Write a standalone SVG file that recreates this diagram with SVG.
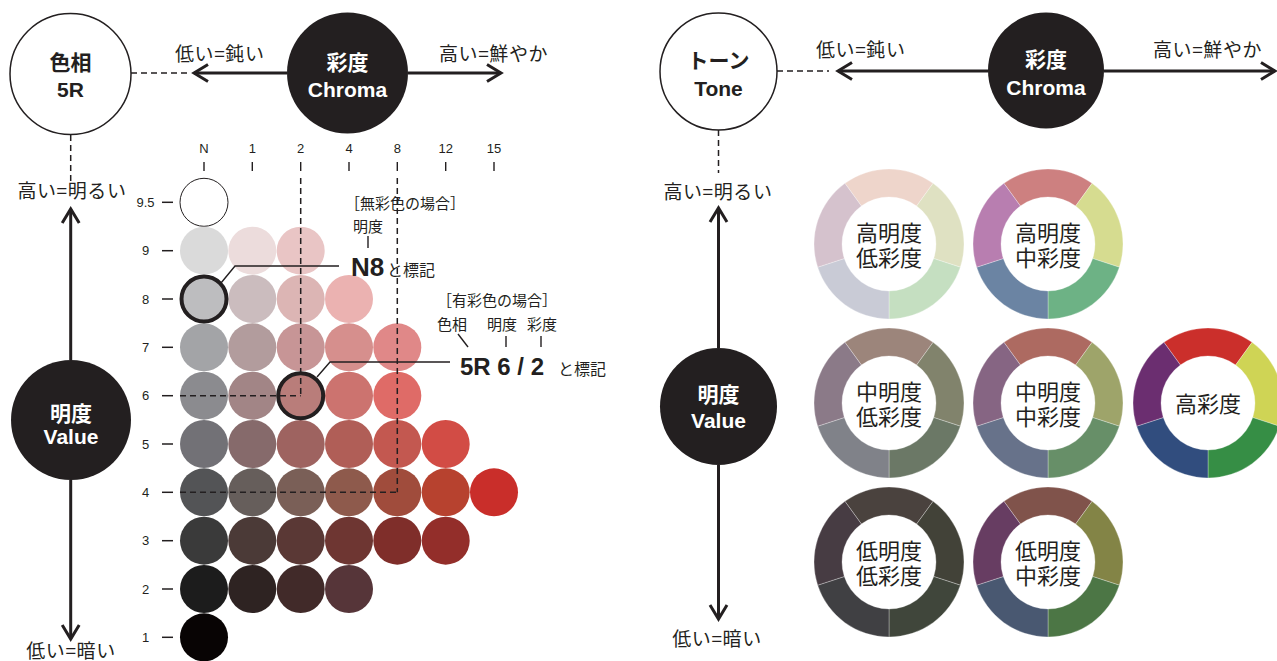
<svg xmlns="http://www.w3.org/2000/svg" xmlns:xlink="http://www.w3.org/1999/xlink" width="1277" height="661" viewBox="0 0 1277 661">
<style>
.jp{font-family:"Noto Sans CJK JP","Liberation Sans",sans-serif;fill:#231f20}
.lab{font-size:19px;letter-spacing:0.6px}
.bw{font-family:"Liberation Sans","Noto Sans CJK JP",sans-serif;font-weight:bold;fill:#fff;font-size:21px;text-anchor:middle}
.bk{font-family:"Liberation Sans","Noto Sans CJK JP",sans-serif;font-weight:bold;fill:#231f20;font-size:21px;text-anchor:middle}
.num{font-family:"Liberation Sans",sans-serif;font-size:13px;fill:#231f20;text-anchor:middle}
.ring{font-family:"Liberation Sans","Noto Sans CJK JP",sans-serif;font-size:22px;fill:#231f20;text-anchor:middle}
.ann{font-family:"Noto Sans CJK JP","Liberation Sans",sans-serif;font-size:15px;fill:#231f20}
.arrow{stroke:#231f20;stroke-width:3;fill:none;marker-end:url(#chev)}
.dash{stroke:#231f20;stroke-width:1.5;fill:none;stroke-dasharray:6 4}
.thin{stroke:#231f20;stroke-width:1.4;fill:none}
.hl{fill:none;stroke:#231f20;stroke-width:4}
.seg{stroke:#ffffff;stroke-width:0.5;stroke-opacity:0.6}
</style>
<defs>
<marker id="chev" markerUnits="userSpaceOnUse" markerWidth="20" markerHeight="22" viewBox="0 0 20 22" refX="16" refY="11" orient="auto">
<path d="M2,2.5 L16,11 L2,19.5" fill="none" stroke="#231f20" stroke-width="3"/>
</marker>
<path id="sT" d="M -44.08 -60.68 A 75 75 0 0 1 44.08 -60.68 L 27.63 -38.02 A 47 47 0 0 0 -27.63 -38.02 Z"/>
<path id="sUR" d="M 44.08 -60.68 A 75 75 0 0 1 71.33 23.18 L 44.70 14.52 A 47 47 0 0 0 27.63 -38.02 Z"/>
<path id="sLR" d="M 71.33 23.18 A 75 75 0 0 1 0 75 L 0 47 A 47 47 0 0 0 44.70 14.52 Z"/>
<path id="sLL" d="M 0 75 A 75 75 0 0 1 -71.33 23.18 L -44.70 14.52 A 47 47 0 0 0 0 47 Z"/>
<path id="sUL" d="M -71.33 23.18 A 75 75 0 0 1 -44.08 -60.68 L -27.63 -38.02 A 47 47 0 0 0 -44.70 14.52 Z"/>
</defs>
<rect width="1277" height="661" fill="#ffffff"/>

<!-- left nodes -->
<g id="hue-node">
<circle cx="70.5" cy="74" r="60.5" fill="#fff" stroke="#231f20" stroke-width="1.5"/>
<text class="bk" x="70.5" y="70">色相</text>
<text class="bk" x="70.5" y="97">5R</text>
</g>
<g id="chroma-node-left">
<circle cx="347.5" cy="73" r="60.5" fill="#231f20"/>
<text class="bw" x="347.5" y="70">彩度</text>
<text class="bw" x="347.5" y="97">Chroma</text>
</g>
<g id="value-node-left">
<circle cx="71" cy="420" r="60" fill="#231f20"/>
<text class="bw" x="71" y="421">明度</text>
<text class="bw" x="71" y="444">Value</text>
</g>
<g id="left-labels">
<text class="jp lab" x="175" y="61">低い=鈍い</text>
<text class="jp lab" x="439" y="61">高い=鮮やか</text>
<text class="jp lab" x="72" y="198" text-anchor="middle">高い=明るい</text>
<text class="jp lab" x="71" y="658" text-anchor="middle">低い=暗い</text>
</g>

<!-- scales -->
<g id="chroma-scale">
<text class="num" x="204" y="153">N</text>
<text class="num" x="252.3" y="153">1</text>
<text class="num" x="300.7" y="153">2</text>
<text class="num" x="349" y="153">4</text>
<text class="num" x="397.3" y="153">8</text>
<text class="num" x="445.7" y="153">12</text>
<text class="num" x="494" y="153">15</text>
<g stroke="#231f20" stroke-width="1.4">
<line x1="204" y1="162" x2="204" y2="171"/>
<line x1="252.3" y1="162" x2="252.3" y2="171"/>
<line x1="300.7" y1="162" x2="300.7" y2="171"/>
<line x1="349" y1="162" x2="349" y2="171"/>
<line x1="397.3" y1="162" x2="397.3" y2="171"/>
<line x1="445.7" y1="162" x2="445.7" y2="171"/>
<line x1="494" y1="162" x2="494" y2="171"/>
</g>
</g>
<g id="value-scale">
<text class="num" x="145.5" y="207">9.5</text>
<text class="num" x="145.5" y="255.2">9</text>
<text class="num" x="145.5" y="303.5">8</text>
<text class="num" x="145.5" y="351.8">7</text>
<text class="num" x="145.5" y="400.2">6</text>
<text class="num" x="145.5" y="448.5">5</text>
<text class="num" x="145.5" y="496.8">4</text>
<text class="num" x="145.5" y="545.2">3</text>
<text class="num" x="145.5" y="593.5">2</text>
<text class="num" x="145.5" y="641.8">1</text>
<g stroke="#231f20" stroke-width="1.5">
<line x1="162" y1="202.3" x2="173" y2="202.3"/>
<line x1="162" y1="250.7" x2="173" y2="250.7"/>
<line x1="162" y1="299" x2="173" y2="299"/>
<line x1="162" y1="347.3" x2="173" y2="347.3"/>
<line x1="162" y1="395.7" x2="173" y2="395.7"/>
<line x1="162" y1="444" x2="173" y2="444"/>
<line x1="162" y1="492.3" x2="173" y2="492.3"/>
<line x1="162" y1="540.7" x2="173" y2="540.7"/>
<line x1="162" y1="589" x2="173" y2="589"/>
<line x1="162" y1="637.3" x2="173" y2="637.3"/>
</g>
</g>

<!-- Munsell grid -->
<g id="munsell-grid">
<circle cx="204" cy="202.3" r="24" fill="#fff" stroke="#231f20" stroke-width="1"/>
<circle cx="204" cy="250.7" r="24" fill="#dadada"/>
<circle cx="252.3" cy="250.7" r="24" fill="#ecdcdc"/>
<circle cx="300.7" cy="250.7" r="24" fill="#e9c5c5"/>
<circle cx="204" cy="299" r="24" fill="#bdbdbf"/>
<circle cx="252.3" cy="299" r="24" fill="#cbbcbe"/>
<circle cx="300.7" cy="299" r="24" fill="#dcb5b4"/>
<circle cx="349" cy="299" r="24" fill="#ebb2b1"/>
<circle cx="204" cy="347.3" r="24" fill="#a3a4a7"/>
<circle cx="252.3" cy="347.3" r="24" fill="#b29c9d"/>
<circle cx="300.7" cy="347.3" r="24" fill="#c79596"/>
<circle cx="349" cy="347.3" r="24" fill="#d68f8d"/>
<circle cx="397.3" cy="347.3" r="24" fill="#e08888"/>
<circle cx="204" cy="395.7" r="24" fill="#8b8b8f"/>
<circle cx="252.3" cy="395.7" r="24" fill="#a28586"/>
<circle cx="300.7" cy="395.7" r="24" fill="#b97d7a"/>
<circle cx="349" cy="395.7" r="24" fill="#cc736f"/>
<circle cx="397.3" cy="395.7" r="24" fill="#df6b67"/>
<circle cx="204" cy="444" r="24" fill="#727176"/>
<circle cx="252.3" cy="444" r="24" fill="#866a6b"/>
<circle cx="300.7" cy="444" r="24" fill="#9e6360"/>
<circle cx="349" cy="444" r="24" fill="#b05e57"/>
<circle cx="397.3" cy="444" r="24" fill="#c35850"/>
<circle cx="445.7" cy="444" r="24" fill="#d24c45"/>
<circle cx="204" cy="492.3" r="24" fill="#535456"/>
<circle cx="252.3" cy="492.3" r="24" fill="#665e5b"/>
<circle cx="300.7" cy="492.3" r="24" fill="#7a5f57"/>
<circle cx="349" cy="492.3" r="24" fill="#8e5a4c"/>
<circle cx="397.3" cy="492.3" r="24" fill="#a04c3c"/>
<circle cx="445.7" cy="492.3" r="24" fill="#b7422f"/>
<circle cx="494" cy="492.3" r="24" fill="#c92e2a"/>
<circle cx="204" cy="540.7" r="24" fill="#3a3a3a"/>
<circle cx="252.3" cy="540.7" r="24" fill="#4b3a37"/>
<circle cx="300.7" cy="540.7" r="24" fill="#5a3835"/>
<circle cx="349" cy="540.7" r="24" fill="#6e3632"/>
<circle cx="397.3" cy="540.7" r="24" fill="#7f2e2a"/>
<circle cx="445.7" cy="540.7" r="24" fill="#932e2a"/>
<circle cx="204" cy="589" r="24" fill="#1c1c1c"/>
<circle cx="252.3" cy="589" r="24" fill="#2e2322"/>
<circle cx="300.7" cy="589" r="24" fill="#412a29"/>
<circle cx="349" cy="589" r="24" fill="#563539"/>
<circle cx="204" cy="637.3" r="24" fill="#080404"/>
</g>
<g id="highlight-N8"><circle class="hl" cx="204" cy="299" r="22.5"/></g>
<g id="highlight-5R62"><circle class="hl" cx="300.7" cy="395.7" r="22.5"/></g>

<!-- connectors (drawn above the dots) -->
<g id="connectors">
<line class="dash" x1="131" y1="73" x2="187" y2="73"/>
<line class="dash" x1="70.7" y1="135" x2="70.7" y2="182"/>
<line class="arrow" x1="287" y1="73" x2="194" y2="73"/>
<line class="arrow" x1="408" y1="73" x2="501" y2="73"/>
<line class="arrow" x1="70.7" y1="360" x2="70.7" y2="209"/>
<line class="arrow" x1="70.7" y1="480" x2="70.7" y2="639"/>
<line class="dash" x1="300.7" y1="178" x2="300.7" y2="395.7"/>
<line class="dash" x1="180" y1="395.7" x2="300.7" y2="395.7"/>
<line class="dash" x1="397.3" y1="178" x2="397.3" y2="492.3"/>
<line class="dash" x1="180" y1="492.3" x2="397.3" y2="492.3"/>
<polyline class="thin" points="221,283 235,266 339,266"/>
<polyline class="thin" points="317,377 330,362 450,362"/>
<line class="thin" x1="368" y1="236" x2="368" y2="248"/>
<line class="thin" x1="458" y1="334" x2="468" y2="347"/>
<line class="thin" x1="506" y1="336" x2="506" y2="347"/>
<line class="thin" x1="541" y1="336" x2="541" y2="347"/>
<line class="dash" x1="777" y1="71" x2="829" y2="71"/>
<line class="dash" x1="718.5" y1="130" x2="718.5" y2="173"/>
<line class="arrow" x1="988" y1="71" x2="838" y2="71"/>
<line class="arrow" x1="1104" y1="71" x2="1275" y2="71"/>
<line class="arrow" x1="718.5" y1="348" x2="718.5" y2="208"/>
<line class="arrow" x1="718.5" y1="465" x2="718.5" y2="619"/>
</g>

<!-- annotations -->
<g id="annotation-achromatic">
<text class="ann" x="345" y="209">［無彩色の場合］</text>
<text class="ann" x="353" y="232">明度</text>
<text x="351" y="276" style="font-family:'Liberation Sans',sans-serif;font-weight:bold;font-size:26px;fill:#231f20">N8</text>
<text class="jp" x="387" y="276" style="font-size:16px">と標記</text>
</g>
<g id="annotation-chromatic">
<text class="ann" x="437" y="306">［有彩色の場合］</text>
<text class="ann" x="437" y="330">色相</text>
<text class="ann" x="487" y="330">明度</text>
<text class="ann" x="527" y="330">彩度</text>
<text x="460" y="375" style="font-family:'Liberation Sans',sans-serif;font-weight:bold;font-size:24px;fill:#231f20">5R 6 / 2</text>
<text class="jp" x="558" y="375" style="font-size:16px">と標記</text>
</g>

<!-- right nodes -->
<g id="tone-node">
<circle cx="718.5" cy="71.5" r="58.5" fill="#fff" stroke="#231f20" stroke-width="1.5"/>
<text class="bk" x="718.5" y="68">トーン</text>
<text class="bk" x="718.5" y="96">Tone</text>
</g>
<g id="chroma-node-right">
<circle cx="1046" cy="70.5" r="58" fill="#231f20"/>
<text class="bw" x="1046" y="67">彩度</text>
<text class="bw" x="1046" y="95">Chroma</text>
</g>
<g id="value-node-right">
<circle cx="718.5" cy="406.5" r="58.5" fill="#231f20"/>
<text class="bw" x="718.5" y="402">明度</text>
<text class="bw" x="718.5" y="428">Value</text>
</g>
<g id="right-labels">
<text class="jp lab" x="816" y="57">低い=鈍い</text>
<text class="jp lab" x="1153" y="57">高い=鮮やか</text>
<text class="jp lab" x="718" y="199" text-anchor="middle">高い=明るい</text>
<text class="jp lab" x="717" y="646" text-anchor="middle">低い=暗い</text>
</g>

<!-- tone rings -->
<g id="ring-high-value-low-chroma" transform="translate(889,244)">
<use xlink:href="#sT" class="seg" fill="#eed5cb"/>
<use xlink:href="#sUR" class="seg" fill="#dfe1c2"/>
<use xlink:href="#sLR" class="seg" fill="#c5dfc1"/>
<use xlink:href="#sLL" class="seg" fill="#c9cbd6"/>
<use xlink:href="#sUL" class="seg" fill="#d5c2cd"/>
<text class="ring" x="0" y="-3.5">高明度</text>
<text class="ring" x="0" y="22">低彩度</text>
</g>
<g id="ring-high-value-mid-chroma" transform="translate(1048,244)">
<use xlink:href="#sT" class="seg" fill="#cd8080"/>
<use xlink:href="#sUR" class="seg" fill="#d6dc90"/>
<use xlink:href="#sLR" class="seg" fill="#6db285"/>
<use xlink:href="#sLL" class="seg" fill="#6b84a3"/>
<use xlink:href="#sUL" class="seg" fill="#b87eb0"/>
<text class="ring" x="0" y="-3.5">高明度</text>
<text class="ring" x="0" y="22">中彩度</text>
</g>
<g id="ring-mid-value-low-chroma" transform="translate(889,403)">
<use xlink:href="#sT" class="seg" fill="#9c857b"/>
<use xlink:href="#sUR" class="seg" fill="#81836c"/>
<use xlink:href="#sLR" class="seg" fill="#6b7866"/>
<use xlink:href="#sLL" class="seg" fill="#808289"/>
<use xlink:href="#sUL" class="seg" fill="#8b7a88"/>
<text class="ring" x="0" y="-3.5">中明度</text>
<text class="ring" x="0" y="22">低彩度</text>
</g>
<g id="ring-mid-value-mid-chroma" transform="translate(1048,403)">
<use xlink:href="#sT" class="seg" fill="#ad6a61"/>
<use xlink:href="#sUR" class="seg" fill="#9ea46a"/>
<use xlink:href="#sLR" class="seg" fill="#678f68"/>
<use xlink:href="#sLL" class="seg" fill="#67728a"/>
<use xlink:href="#sUL" class="seg" fill="#866583"/>
<text class="ring" x="0" y="-3.5">中明度</text>
<text class="ring" x="0" y="22">中彩度</text>
</g>
<g id="ring-high-chroma" transform="translate(1208,403)">
<use xlink:href="#sT" class="seg" fill="#cb2f2b"/>
<use xlink:href="#sUR" class="seg" fill="#cfd455"/>
<use xlink:href="#sLR" class="seg" fill="#368e45"/>
<use xlink:href="#sLL" class="seg" fill="#314d7e"/>
<use xlink:href="#sUL" class="seg" fill="#6b2e70"/>
<text class="ring" x="0" y="9">高彩度</text>
</g>
<g id="ring-low-value-low-chroma" transform="translate(889,562)">
<use xlink:href="#sT" class="seg" fill="#4a423e"/>
<use xlink:href="#sUR" class="seg" fill="#424238"/>
<use xlink:href="#sLR" class="seg" fill="#40463b"/>
<use xlink:href="#sLL" class="seg" fill="#404043"/>
<use xlink:href="#sUL" class="seg" fill="#473c43"/>
<text class="ring" x="0" y="-3.5">低明度</text>
<text class="ring" x="0" y="22">低彩度</text>
</g>
<g id="ring-low-value-mid-chroma" transform="translate(1048,562)">
<use xlink:href="#sT" class="seg" fill="#80534b"/>
<use xlink:href="#sUR" class="seg" fill="#838446"/>
<use xlink:href="#sLR" class="seg" fill="#4c7645"/>
<use xlink:href="#sLL" class="seg" fill="#495871"/>
<use xlink:href="#sUL" class="seg" fill="#673d62"/>
<text class="ring" x="0" y="-3.5">低明度</text>
<text class="ring" x="0" y="22">中彩度</text>
</g>
</svg>
